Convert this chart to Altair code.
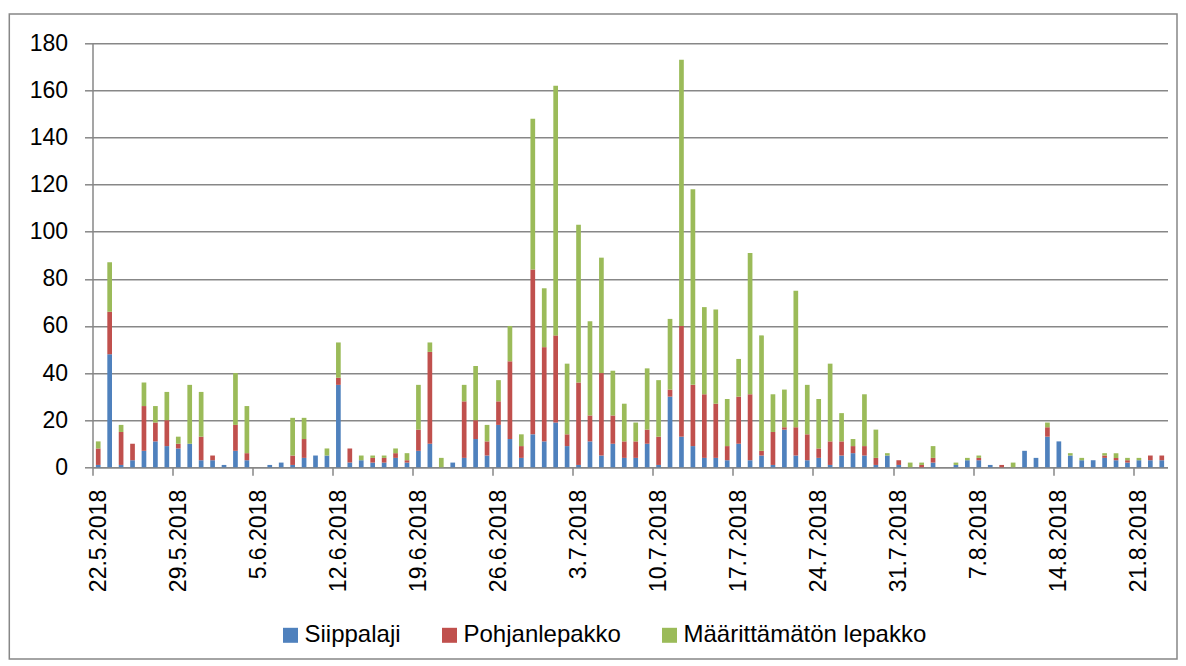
import altair as alt
import pandas as pd

start_date = "2018-05-22"
n_days = 94

siippalaji = [1, 48, 1, 3, 7, 11, 9, 8, 10, 3, 3, 1, 7, 3, 0, 1, 2, 1, 4, 5,
              5, 35, 2, 3, 2, 2, 4, 2, 7, 10, 0, 2, 4, 12, 5, 18, 12, 4, 14, 11,
              19, 9, 1, 11, 5, 10, 4, 4, 10, 1, 30, 13, 9, 4, 4, 3, 10, 3, 5, 1,
              16, 5, 3, 4, 1, 5, 6, 5, 1, 5, 1, 0, 0, 2, 0, 1, 3, 3, 1, 0,
              0, 7, 4, 13, 11, 5, 3, 3, 4, 3, 2, 3, 3, 3]
pohjanlepakko = [7, 18, 14, 7, 19, 8, 11, 2, 0, 10, 2, 0, 11, 3, 0, 0, 0, 4, 8, 0,
                 0, 3, 6, 0, 2, 2, 2, 1, 9, 39, 0, 0, 24, 8, 6, 10, 33, 5, 70, 40,
                 37, 5, 35, 11, 35, 12, 7, 7, 6, 12, 3, 47, 26, 27, 23, 6, 20, 28, 2, 14,
                 1, 12, 11, 4, 10, 6, 3, 4, 3, 0, 2, 0, 1, 2, 0, 0, 0, 1, 0, 1,
                 0, 0, 0, 4, 0, 0, 0, 0, 1, 1, 1, 0, 2, 2]
maarittamaton = [3, 21, 3, 0, 10, 7, 12, 3, 25, 19, 0, 0, 22, 20, 0, 0, 0, 16, 9, 0,
                 3, 15, 0, 2, 1, 1, 2, 3, 19, 4, 4, 0, 7, 23, 7, 9, 15, 5, 64, 25,
                 106, 30, 67, 40, 49, 19, 16, 8, 26, 24, 30, 113, 83, 37, 40, 20, 16, 60, 49, 16,
                 16, 58, 21, 21, 33, 12, 3, 22, 12, 1, 0, 2, 1, 5, 0, 1, 1, 1, 0, 0,
                 2, 0, 0, 2, 0, 1, 1, 0, 1, 2, 1, 1, 0, 0]

series_names = ["Siippalaji", "Pohjanlepakko", "Määrittämätön lepakko"]
series_colors = ["#4F81BD", "#C0504D", "#9BBB59"]

dates = [f"{d.day}.{d.month}.{d.year}" for d in pd.date_range(start_date, periods=n_days, freq="D")]
tick_dates = dates[::7]

rows = []
for k, (name, vals) in enumerate(zip(series_names, [siippalaji, pohjanlepakko, maarittamaton])):
    for d, v in zip(dates, vals):
        rows.append({"date": d, "laji": name, "value": v, "ord": k})
df = pd.DataFrame(rows)

W, H = 1075, 424
bw = W / n_days
FONT = "Liberation Sans"
GRID = "#878787"

bars = alt.Chart(df).mark_bar(width=alt.RelativeBandSize(0.41)).encode(
    x=alt.X("date:N", sort=dates, title=None,
            scale=alt.Scale(paddingInner=0, paddingOuter=0),
            axis=alt.Axis(values=tick_dates, labelAngle=-90, tickOffset=-bw / 2,
                          labelOffset=bw / 2, tickSize=8, labelPadding=14,
                          grid=False, domainColor=GRID, tickColor=GRID,
                          domainWidth=1.5, tickWidth=1.5)),
    y=alt.Y("sum(value):Q", title=None, stack="zero",
            scale=alt.Scale(domain=[0, 180], nice=False),
            axis=alt.Axis(values=list(range(0, 181, 20)), tickSize=8, labelPadding=17,
                          grid=True, gridColor=GRID, gridWidth=1.5,
                          domainColor=GRID, tickColor=GRID, domainWidth=1.5, tickWidth=1.5)),
    color=alt.Color("laji:N", title=None,
                    scale=alt.Scale(domain=series_names, range=series_colors),
                    legend=alt.Legend(orient="none", direction="horizontal",
                                      legendX=186, legendY=580, symbolType="square",
                                      symbolSize=225, symbolStrokeWidth=0,
                                      labelOffset=2, columnPadding=36, labelLimit=0)),
    order=alt.Order("ord:Q", sort="ascending"),
)

frame = alt.Chart(pd.DataFrame({"f": [0]})).mark_rect(
    filled=False, stroke=GRID, strokeWidth=1.5
).encode(
    x=alt.value(-83.2), x2=alt.value(1084.5), y=alt.value(-29.3), y2=alt.value(615.7)
)

chart = alt.layer(bars, frame).properties(
    width=W, height=H,
    autosize=alt.AutoSizeParams(type="none"),
    padding={"left": 84.5, "top": 35.3, "right": 10.5, "bottom": 192.7},
).configure(font=FONT).configure_view(strokeOpacity=0).configure_axis(
    labelFont=FONT, labelFontSize=23, labelColor="#000000"
).configure_legend(
    labelFont=FONT, labelFontSize=24, labelColor="#000000"
)

chart.save("out.html", embed_options={"renderer": "svg", "actions": False})
